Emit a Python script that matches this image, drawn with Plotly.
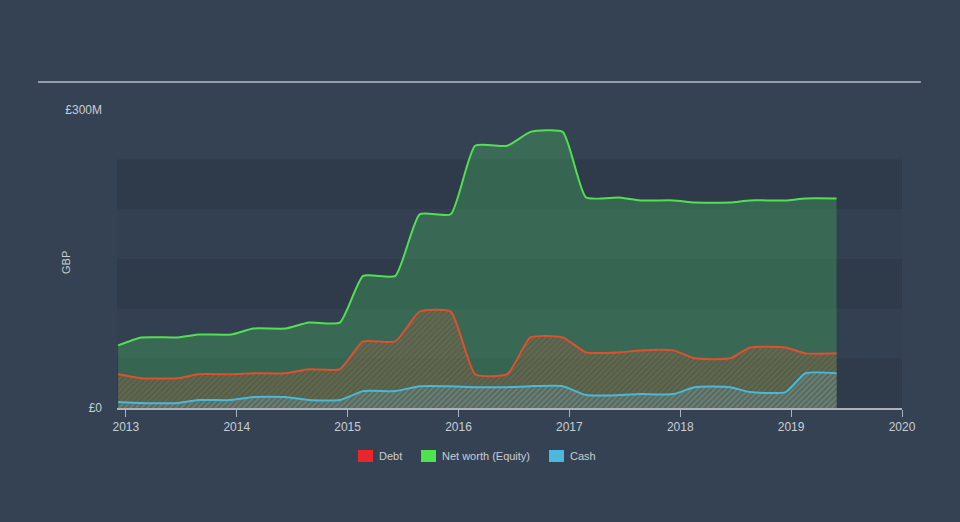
import plotly.graph_objects as go

# Data (GBP millions), x in fractional years
years = [2012.93, 2013.14, 2013.47, 2013.65, 2013.95, 2014.15, 2014.44, 2014.65, 2014.93,
         2015.14, 2015.43, 2015.65, 2015.93, 2016.15, 2016.44, 2016.65, 2016.94, 2017.15,
         2017.45, 2017.64, 2017.94, 2018.13, 2018.45, 2018.63, 2018.95, 2019.13, 2019.41]
equity = [63, 71, 71, 74, 74, 80, 80, 86, 86, 133, 133, 195, 195, 264, 264, 278, 278, 212,
          212, 209, 209, 207, 207, 209, 209, 211, 211]
debt = [34, 30, 30, 34, 34, 35, 35, 39, 39, 67, 67, 97, 97, 34, 34, 71, 71, 56,
        56, 58, 58, 50, 50, 61, 61, 55, 55]
cash = [6, 5, 5, 8, 8, 11, 11, 8, 8, 17, 17, 22, 22, 21, 21, 22, 22, 13,
        13, 14, 14, 21, 21, 16, 16, 35, 35]

tick_years = [2013, 2014, 2015, 2016, 2017, 2018, 2019, 2020]
y_ticks = [0, 300]
y_ticktext = ["£0", "£300M"]
legend_names = ["Debt", "Net worth (Equity)", "Cash"]
legend_colors = ["#e8262b", "#4fe34f", "#4bb8dc"]

FONT = "Liberation Sans, Arial, sans-serif"
BG = "#354253"
BAND = "#2f3b4b"
SMOOTH = 0.5

fig = go.Figure()

fig.add_trace(go.Scatter(
    x=years, y=equity, mode="lines", name=legend_names[1],
    line=dict(color="#52e052", width=2, shape="spline", smoothing=SMOOTH),
    fill="tozeroy", fillcolor="rgba(72,200,95,0.30)", showlegend=False, hoverinfo="skip"))
fig.add_trace(go.Scatter(
    x=years, y=debt, mode="lines", name=legend_names[0],
    line=dict(color="#e0502c", width=2, shape="spline", smoothing=SMOOTH),
    fill="tozeroy", fillcolor="rgba(200,80,50,0.12)",
    fillpattern=dict(shape="/", fgcolor="rgba(225,95,55,0.6)", bgcolor="rgba(150,90,60,0.18)",
                     size=4, solidity=0.4),
    showlegend=False, hoverinfo="skip"))
fig.add_trace(go.Scatter(
    x=years, y=cash, mode="lines", name=legend_names[2],
    line=dict(color="#4ab8d8", width=2, shape="spline", smoothing=SMOOTH),
    fill="tozeroy", fillcolor="rgba(120,150,160,0.3)",
    fillpattern=dict(shape="/", fgcolor="rgba(140,175,185,0.55)", bgcolor="rgba(95,125,130,0.35)",
                     size=4, solidity=0.4),
    showlegend=False, hoverinfo="skip"))

shapes = []
for lo, hi in [(0, 50), (100, 150), (200, 250)]:
    shapes.append(dict(type="rect", xref="x", yref="y", x0=2012.92, x1=2020, y0=lo, y1=hi,
                       fillcolor=BAND, line=dict(width=0), layer="below"))
for lo, hi in [(50, 100), (150, 200)]:
    shapes.append(dict(type="rect", xref="x", yref="y", x0=2012.92, x1=2020, y0=lo, y1=hi,
                       fillcolor="#334051", line=dict(width=0), layer="below"))
shapes.append(dict(type="line", xref="paper", yref="paper", x0=-0.1006, x1=1.024, y0=1.094, y1=1.094,
                   line=dict(color="#b5bcc5", width=1.5)))

annotations = [dict(text="GBP", xref="paper", yref="paper", x=-0.065, y=0.49, textangle=-90,
                    showarrow=False, font=dict(size=11, color="#c8cdd3"),
                    xanchor="center", yanchor="middle")]

# manual legend (squares + labels), positions in paper fraction of plot area
leg_sq_x = [0.3070, 0.3873, 0.5503]
leg_sq_w = 0.0191
for name, col, x0 in zip(legend_names, legend_colors, leg_sq_x):
    shapes.append(dict(type="rect", xref="paper", yref="paper", x0=x0, x1=x0 + leg_sq_w,
                       y0=-0.1812, y1=-0.1409, fillcolor=col, line=dict(width=0)))
    annotations.append(dict(text=name, xref="paper", yref="paper", x=x0 + leg_sq_w + 0.005, y=-0.161,
                            showarrow=False, xanchor="left", yanchor="middle",
                            font=dict(size=11, color="#c8cdd3")))

fig.update_layout(
    width=960, height=522,
    margin=dict(l=117, r=58, t=110, b=114),
    paper_bgcolor=BG, plot_bgcolor=BG,
    font=dict(family=FONT, color="#c8cdd3", size=12),
    shapes=shapes,
    annotations=annotations,
    showlegend=False,
    xaxis=dict(range=[2012.92, 2020], tickvals=tick_years, ticktext=[str(t) for t in tick_years],
               showgrid=False, zeroline=False, showline=True, linecolor="#aab2bc", linewidth=1.5,
               ticks="outside", ticklen=7, tickcolor="#aab2bc", tickfont=dict(size=12, color="#c8cdd3")),
    yaxis=dict(range=[0, 300], tickvals=y_ticks, ticktext=y_ticktext, showgrid=False, zeroline=False,
               showline=False, ticks="", ticklabelstandoff=14, tickfont=dict(size=12, color="#c8cdd3")),
)

fig.write_html("out.html")
